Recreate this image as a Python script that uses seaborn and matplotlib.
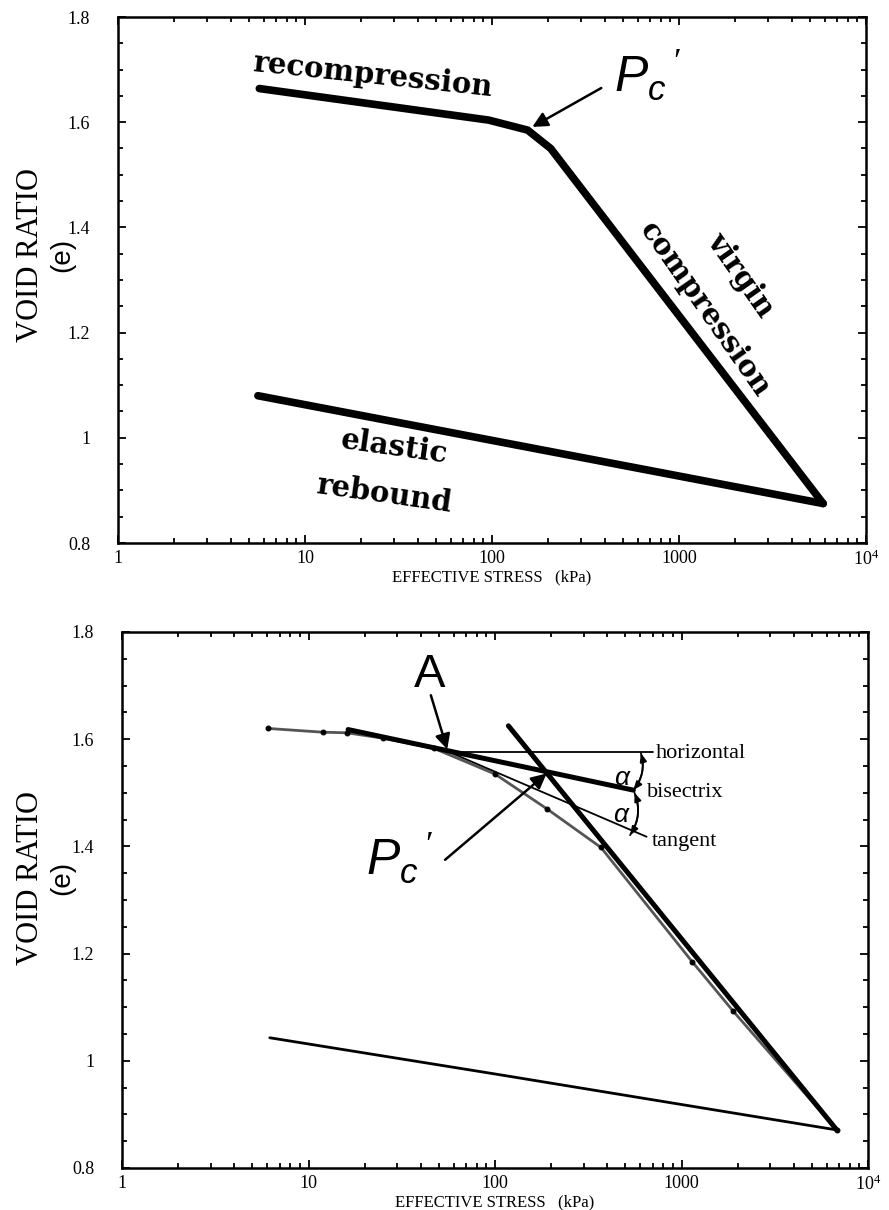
import numpy as np
import pandas as pd
import matplotlib
matplotlib.use("Agg")
import matplotlib.pyplot as plt
import seaborn as sns
from matplotlib.ticker import FixedLocator, MultipleLocator, LogLocator, NullFormatter

# ---------------- data ----------------
# top panel (idealised curve)
top_recomp_stress = [5.7, 96, 155, 206, 5900]
top_recomp_void = [1.664, 1.604, 1.585, 1.550, 0.875]
top_rebound_stress = [5.6, 5900]
top_rebound_void = [1.08, 0.875]

# bottom panel (Casagrande construction)
bot_curve_stress = [6.1, 12, 16, 25, 47, 100, 190, 370, 1140, 1900, 6800]
bot_curve_void = [1.620, 1.613, 1.612, 1.602, 1.583, 1.535, 1.470, 1.398, 1.185, 1.092, 0.871]
bot_rebound_stress = [6.2, 106, 6800]
bot_rebound_void = [1.043, 0.974, 0.871]
bot_virgin_stress = [118, 6800]
bot_virgin_void = [1.625, 0.871]
bot_bisectrix_stress = [16.3, 552]
bot_bisectrix_void = [1.618, 1.505]
bot_horizontal_stress = [56, 700]
bot_horizontal_void = [1.577, 1.577]
bot_tangent_stress = [56, 650]
bot_tangent_void = [1.577, 1.418]
point_A = (56, 1.577)
point_pc = (189, 1.536)

x_ticks = [1, 10, 100, 1000, 10000]
x_ticklabels = ["1", "10", "100", "1000", r"$\mathregular{10^4}$"]
y_ticks = [0.8, 1.0, 1.2, 1.4, 1.6, 1.8]
y_ticklabels = ["0.8", "1", "1.2", "1.4", "1.6", "1.8"]

# ---------------- style ----------------
sns.set_style("ticks")
plt.rcParams["font.family"] = ["Liberation Serif", "DejaVu Serif"]
plt.rcParams["mathtext.fontset"] = "custom"
plt.rcParams["mathtext.rm"] = "Liberation Serif"
plt.rcParams["mathtext.it"] = "Liberation Sans:italic"
plt.rcParams["mathtext.bf"] = "Liberation Serif:bold"
for k in ("text.color", "axes.labelcolor", "xtick.color", "ytick.color", "axes.edgecolor"):
    plt.rcParams[k] = "black"

W, H = 889, 1210
fig = plt.figure(figsize=(W / 100, H / 100), dpi=100)
fig.patch.set_facecolor("white")


def px_axes(left, top, right, bottom):
    return fig.add_axes([left / W, 1 - bottom / H, (right - left) / W, (bottom - top) / H])


ax1 = px_axes(118, 17, 866, 543)
ax2 = px_axes(122, 632, 868, 1168)


def style(ax):
    ax.set_xscale("log")
    ax.set_xlim(1, 1e4)
    ax.set_ylim(0.8, 1.8)
    ax.xaxis.set_major_locator(FixedLocator(x_ticks))
    ax.set_xticklabels(x_ticklabels)
    ax.xaxis.set_minor_locator(LogLocator(base=10, subs=range(2, 10)))
    ax.xaxis.set_minor_formatter(NullFormatter())
    ax.yaxis.set_major_locator(FixedLocator(y_ticks))
    ax.set_yticklabels(y_ticklabels)
    ax.yaxis.set_minor_locator(MultipleLocator(0.05))
    ax.tick_params(which="both", direction="in", top=True, right=True,
                   colors="black", labelsize=13, width=1.3)
    ax.tick_params(which="major", length=6)
    ax.tick_params(which="minor", length=3.5)
    ax.tick_params(axis="y", which="major", pad=20)
    ax.tick_params(axis="x", which="major", pad=5)
    for s in ax.spines.values():
        s.set_linewidth(1.8)
        s.set_color("black")
    ax.set_xlabel("EFFECTIVE STRESS   (kPa)", fontsize=12, labelpad=0)
    ax.set_ylabel("")


def line(ax, xs, ys, lw, color="black", **kw):
    df = pd.DataFrame({"stress": xs, "void": ys})
    sns.lineplot(data=df, x="stress", y="void", ax=ax, sort=False, estimator=None,
                 color=color, linewidth=lw, solid_joinstyle="miter", **kw)


# ---------------- top panel ----------------
line(ax1, top_recomp_stress, top_recomp_void, 5.5)
line(ax1, top_rebound_stress, top_rebound_void, 5.5)
style(ax1)

lab_kw = dict(fontfamily="DejaVu Serif", fontweight="bold", fontsize=21,
              ha="center", va="center", rotation_mode="anchor")
ax1.text(23, 1.69, "recompression", rotation=-6, **lab_kw)
ax1.text(2150, 1.31, "virgin", rotation=-55, **lab_kw)
ax1.text(1370, 1.245, "compression", rotation=-55, **lab_kw)
ax1.text(30, 0.982, "elastic", rotation=-8, **lab_kw)
ax1.text(26.4, 0.893, "rebound", rotation=-8, **lab_kw)

kink = (top_recomp_stress[2], top_recomp_void[2])
ax1.annotate("", xy=(kink[0] * 1.06, kink[1] + 0.006), xytext=(384, 1.665),
             arrowprops=dict(arrowstyle="-|>,head_length=0.9,head_width=0.45",
                             color="black", lw=1.8, shrinkA=0, shrinkB=0))
ax1.text(678, 1.69, r"$P_c\,'$", fontsize=36, ha="center", va="center")

# ---------------- bottom panel ----------------
line(ax2, bot_curve_stress, bot_curve_void, 2.0, color="#555555",
     marker="o", markersize=3.5, markerfacecolor="black", markeredgecolor="black")
line(ax2, bot_rebound_stress, bot_rebound_void, 2.0)
line(ax2, bot_virgin_stress, bot_virgin_void, 3.6)
line(ax2, bot_bisectrix_stress, bot_bisectrix_void, 3.6)
line(ax2, bot_horizontal_stress, bot_horizontal_void, 1.3)
line(ax2, bot_tangent_stress, bot_tangent_void, 1.3)
style(ax2)

small_kw = dict(fontsize=16, ha="left", va="center")
ax2.text(730, 1.574, "horizontal", **small_kw)
ax2.text(655, 1.501, "bisectrix", **small_kw)
ax2.text(690, 1.41, "tangent", **small_kw)
ax2.text(486, 1.529, r"$\alpha$", fontsize=19, ha="center", va="center",
         fontfamily="DejaVu Serif")
ax2.text(480, 1.459, r"$\alpha$", fontsize=19, ha="center", va="center",
         fontfamily="DejaVu Serif")
arc_kw = dict(arrowstyle="-|>,head_length=0.5,head_width=0.2", color="black", lw=1.3,
              shrinkA=0, shrinkB=0)
ax2.annotate("", xy=(606, 1.574), xytext=(552, 1.505),
             arrowprops=dict(connectionstyle="arc3,rad=0.25", **arc_kw))
ax2.annotate("", xy=(552, 1.505), xytext=(606, 1.574),
             arrowprops=dict(connectionstyle="arc3,rad=-0.25", **arc_kw))
ax2.annotate("", xy=(530, 1.421), xytext=(560, 1.500),
             arrowprops=dict(connectionstyle="arc3,rad=-0.25", **arc_kw))
ax2.annotate("", xy=(560, 1.500), xytext=(530, 1.421),
             arrowprops=dict(connectionstyle="arc3,rad=0.25", **arc_kw))

ax2.text(44.8, 1.72, "A", fontfamily="Liberation Sans", fontsize=34,
         ha="center", va="center")
big_arrow = dict(arrowstyle="-|>,head_length=0.9,head_width=0.45", color="black",
                 lw=1.8, shrinkA=0, shrinkB=0)
ax2.annotate("", xy=(point_A[0] * 0.99, point_A[1] + 0.004), xytext=(45.3, 1.682),
             arrowprops=big_arrow)
ax2.annotate("", xy=point_pc, xytext=(54, 1.375), arrowprops=big_arrow)
ax2.text(31, 1.378, r"$P_c\,'$", fontsize=36, ha="center", va="center")

# y labels
for yc in (255, 878):
    fig.text(31 / W, 1 - yc / H, "VOID RATIO", rotation=90, fontsize=22,
             ha="center", va="center")
    fig.text(62 / W, 1 - yc / H, "(e)", rotation=90, fontsize=20,
             fontfamily="Liberation Sans", ha="center", va="center")

fig.savefig("out.png", dpi=100, facecolor="white")
